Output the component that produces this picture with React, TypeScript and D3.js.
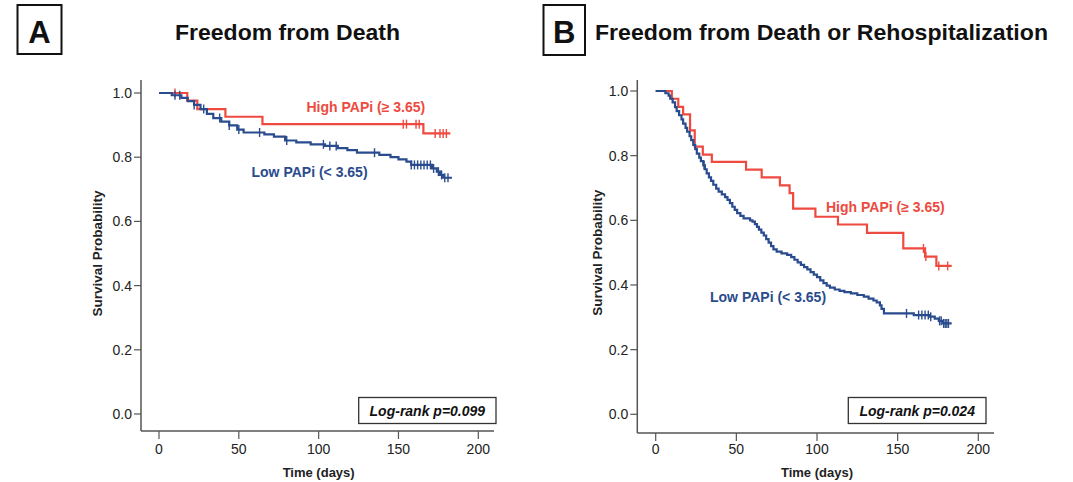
import React from "react";
import * as d3 from "d3";

const W = 1073;
const H = 482;
const FONT = '"Liberation Sans", Arial, Helvetica, sans-serif';
const RED = "#ee4a40";
const BLUE = "#2a4b8d";

const xTicks = [0, 50, 100, 150, 200];
const yTicks = [0, 0.2, 0.4, 0.6, 0.8, 1.0];

// Panel A - freedom from death. steps are [day, survival after the step]
const deathHighSteps = [
  [0, 1.0], [17.7, 0.976], [24, 0.95], [41.6, 0.926], [64.8, 0.903], [165.6, 0.874],
];
const deathHighEnd = 182.5;
const deathHighCensored = [10, 153, 155, 161, 163, 173, 176, 178, 180];

const deathLowSteps = [
  [0, 1.0], [8, 0.993], [14, 0.985], [18, 0.975], [22, 0.963], [26, 0.95], [30, 0.935],
  [34, 0.922], [39, 0.911], [44, 0.899], [49, 0.886], [53, 0.877], [66, 0.871],
  [72, 0.864], [79, 0.852], [86, 0.846], [95, 0.84], [104, 0.835], [112, 0.828],
  [118, 0.822], [124, 0.814], [138, 0.807], [145, 0.8], [150, 0.793], [155, 0.786],
  [158, 0.776], [171, 0.765], [174, 0.755], [176, 0.745], [178, 0.736],
];
const deathLowEnd = 183.5;
const deathLowCensored = [
  10, 13, 22, 28, 38, 44, 50, 63, 80, 103, 107, 111, 135, 158, 160, 162, 164, 166,
  168, 170, 172, 175, 177, 179, 181,
];

// Panel B - freedom from death or rehospitalization
const rehospHighSteps = [
  [0, 1.0], [10, 0.976], [14, 0.951], [17, 0.928], [21.3, 0.878], [24.2, 0.828],
  [29.2, 0.803], [34.8, 0.781], [56, 0.757], [65.7, 0.733], [77, 0.708], [83, 0.684],
  [85.2, 0.636], [99, 0.611], [113, 0.587], [131, 0.561], [153.5, 0.513],
  [167, 0.488], [174, 0.459],
];
const rehospHighEnd = 183.5;
const rehospHighCensored = [166, 167.5, 175.5, 181];

const rehospLowSteps = [
  [0, 1.0], [6, 0.993], [8, 0.986], [9, 0.976], [10.5, 0.965], [12, 0.95], [13, 0.938],
  [14.5, 0.925], [16, 0.912], [17, 0.899], [18.5, 0.886], [19.5, 0.874], [21, 0.86],
  [22, 0.848], [23.3, 0.833], [24.5, 0.82], [25.5, 0.806], [27, 0.794], [28, 0.783],
  [29.5, 0.77], [30.5, 0.758], [31.6, 0.745], [33, 0.733], [34.3, 0.722], [35.7, 0.71],
  [37.5, 0.698], [39, 0.689], [41, 0.68], [43, 0.672], [44.5, 0.663], [46, 0.653],
  [47.5, 0.642], [49, 0.632], [50.5, 0.622], [52.5, 0.614], [54.5, 0.606], [58.5, 0.6],
  [60, 0.596], [61.5, 0.588], [62.8, 0.58], [64, 0.571], [65.5, 0.562], [67, 0.553],
  [68.5, 0.542], [70, 0.531], [71.5, 0.52], [73, 0.51], [75, 0.503], [78, 0.498],
  [81.5, 0.493], [84, 0.486], [86, 0.478], [88, 0.47], [90, 0.462], [92, 0.455],
  [94, 0.448], [96, 0.44], [98, 0.432], [100, 0.424], [102, 0.414], [104, 0.406],
  [106, 0.398], [108, 0.392], [111, 0.386], [114, 0.382], [117, 0.378], [121, 0.374],
  [125, 0.369], [129, 0.364], [132, 0.358], [135, 0.352], [137, 0.346], [139, 0.337],
  [140, 0.326], [141.5, 0.312], [160, 0.307], [170, 0.302], [173, 0.296],
  [175.5, 0.289], [178, 0.281],
];
const rehospLowEnd = 183.5;
const rehospLowCensored = [
  30, 155.5, 163, 165, 167, 169, 170.5, 176, 177, 178.5, 179.5, 180.5, 181.5,
];

const survAt = (steps, t) => {
  const i = d3.bisector((d) => d[0]).right(steps, t) - 1;
  return steps[Math.max(0, i)][1];
};

const Curve = ({ steps, end, censored, x, y, color }) => {
  const pts = [...steps, [end, steps[steps.length - 1][1]]];
  const line = d3
    .line()
    .x((d) => x(d[0]))
    .y((d) => y(d[1]))
    .curve(d3.curveStepAfter);
  return (
    <g>
      <path d={line(pts)} fill="none" stroke={color} strokeWidth={2.2} />
      {censored.map((t, i) => (
        <line
          key={i}
          x1={x(t)}
          x2={x(t)}
          y1={y(survAt(steps, t)) - 4.5}
          y2={y(survAt(steps, t)) + 4.5}
          stroke={color}
          strokeWidth={1.4}
        />
      ))}
    </g>
  );
};

const Panel = ({ cfg }) => {
  const x = d3.scaleLinear().domain([0, 200]).range(cfg.xRange);
  const y = d3.scaleLinear().domain([0, 1]).range(cfg.yRange);
  const fmt = d3.format(".1f");
  return (
    <g fontFamily={FONT}>
      {/* panel letter */}
      <rect x={cfg.box[0]} y={cfg.box[1]} width={cfg.box[2]} height={cfg.box[3]} fill="none" stroke="#111" strokeWidth={2} />
      <text x={cfg.box[0] + cfg.box[2] / 2} y={42.5} textAnchor="middle" fontSize={31} fontWeight="bold" fill="#111">
        {cfg.letter}
      </text>
      <text x={cfg.titleX} y={39.5} fontSize={22.5} fontWeight="bold" fill="#111" textLength={cfg.titleW} lengthAdjust="spacingAndGlyphs">
        {cfg.title}
      </text>

      {/* axes */}
      <line x1={cfg.axisX} x2={cfg.axisX} y1={80} y2={cfg.axisY} stroke="#555" strokeWidth={1.5} />
      <line x1={cfg.axisX} x2={cfg.axisRight} y1={cfg.axisY} y2={cfg.axisY} stroke="#555" strokeWidth={1.5} />
      {yTicks.map((v) => (
        <g key={v}>
          <line x1={cfg.axisX - 7} x2={cfg.axisX} y1={y(v)} y2={y(v)} stroke="#555" strokeWidth={1.2} />
          <text x={cfg.axisX - 9} y={y(v) + 5} textAnchor="end" fontSize={14} fill="#222">
            {fmt(v)}
          </text>
        </g>
      ))}
      {xTicks.map((v) => (
        <g key={v}>
          <line x1={x(v)} x2={x(v)} y1={cfg.axisY} y2={cfg.axisY + 8} stroke="#555" strokeWidth={1.2} />
          <text x={x(v)} y={454} textAnchor="middle" fontSize={14} fill="#222">
            {v}
          </text>
        </g>
      ))}
      <text x={x(100)} y={476.5} textAnchor="middle" fontSize={13} fontWeight="bold" fill="#222">
        Time (days)
      </text>
      <text
        transform={`translate(${cfg.yLabelX},${(y(0) + y(1)) / 2}) rotate(-90)`}
        textAnchor="middle"
        fontSize={13.5}
        fontWeight="bold"
        fill="#222"
      >
        Survival Probability
      </text>

      {/* curves */}
      <Curve steps={cfg.high.steps} end={cfg.high.end} censored={cfg.high.censored} x={x} y={y} color={RED} />
      <Curve steps={cfg.low.steps} end={cfg.low.end} censored={cfg.low.censored} x={x} y={y} color={BLUE} />
      <text x={cfg.highLabel[0]} y={cfg.highLabel[1]} fontSize={14} fontWeight="bold" fill={RED}>
        High PAPi (≥ 3.65)
      </text>
      <text x={cfg.lowLabel[0]} y={cfg.lowLabel[1]} fontSize={14} fontWeight="bold" fill={BLUE}>
        Low PAPi (&lt; 3.65)
      </text>

      {/* log-rank box */}
      <rect x={cfg.pBox[0]} y={397.5} width={cfg.pBox[1] - cfg.pBox[0]} height={26} fill="#fff" stroke="#333" strokeWidth={1.3} />
      <text x={(cfg.pBox[0] + cfg.pBox[1]) / 2} y={415.5} textAnchor="middle" fontSize={14} fontWeight="bold" fontStyle="italic" fill="#111">
        {cfg.pText}
      </text>
    </g>
  );
};

const panels = [
  {
    letter: "A",
    title: "Freedom from Death",
    box: [17.5, 5, 44, 49],
    titleX: 175,
    titleW: 225,
    xRange: [159, 478.3],
    yRange: [414, 93],
    axisX: 141,
    axisY: 431,
    axisRight: 494,
    yLabelX: 102,
    high: { steps: deathHighSteps, end: deathHighEnd, censored: deathHighCensored },
    low: { steps: deathLowSteps, end: deathLowEnd, censored: deathLowCensored },
    highLabel: [306.5, 111.5],
    lowLabel: [251.5, 176.5],
    pBox: [358.7, 496],
    pText: "Log-rank p=0.099",
  },
  {
    letter: "B",
    title: "Freedom from Death or Rehospitalization",
    box: [543.5, 5, 41.5, 50],
    titleX: 595,
    titleW: 453,
    xRange: [655.7, 978.3],
    yRange: [414.3, 91],
    axisX: 637.3,
    axisY: 433,
    axisRight: 994,
    yLabelX: 602,
    high: { steps: rehospHighSteps, end: rehospHighEnd, censored: rehospHighCensored },
    low: { steps: rehospLowSteps, end: rehospLowEnd, censored: rehospLowCensored },
    highLabel: [826, 211.5],
    lowLabel: [710, 301.5],
    pBox: [848.3, 986],
    pText: "Log-rank p=0.024",
  },
];

export default function App() {
  return (
    <svg
      width={W}
      height={H}
      viewBox={`0 0 ${W} ${H}`}
      style={{ position: "absolute", left: 0, top: 0, background: "#fff" }}
    >
      <rect width={W} height={H} fill="#fff" />
      {panels.map((p) => (
        <Panel key={p.letter} cfg={p} />
      ))}
    </svg>
  );
}
